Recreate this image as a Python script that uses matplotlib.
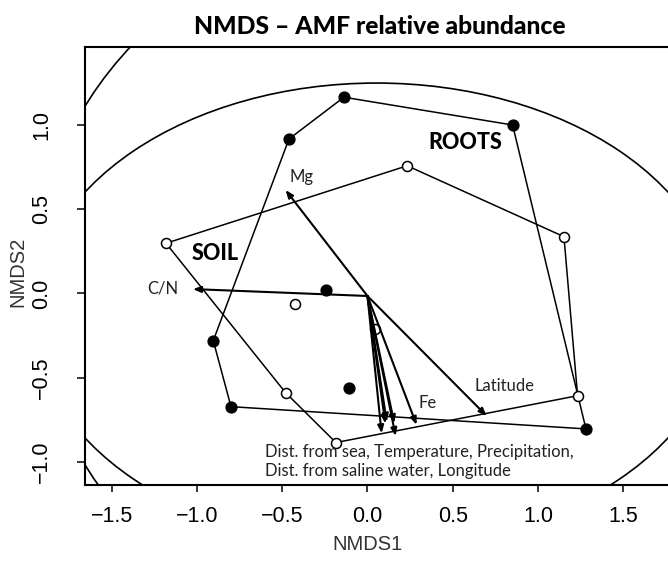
import matplotlib
matplotlib.use("Agg")
import matplotlib.pyplot as plt
from matplotlib.patches import Ellipse
import numpy as np

# ---- data ----
open_x = [-1.181, 0.233, 1.152, 1.232, -0.185, -0.480, -0.425, 0.044]
open_y = [0.298, 0.758, 0.337, -0.607, -0.885, -0.589, -0.064, -0.213]
open_hull = [0, 1, 2, 3, 4, 5]          # indices of hull vertices, in order

filled_x = [-0.138, 0.851, 1.281, -0.800, -0.904, -0.460, -0.245, -0.107]
filled_y = [1.165, 1.000, -0.804, -0.672, -0.280, 0.917, 0.021, -0.563]
filled_hull = [0, 1, 2, 3, 4, 5]

arrow_origin = (0.0, -0.015)
arrow_names = ["C/N", "Mg", "Latitude", "Fe", "Dist. from sea", "Temperature",
               "Precipitation", "Dist. from saline water", "Longitude"]
arrow_x = [-1.023, -0.480, 0.699, 0.288, 0.083, 0.113, 0.157, 0.165, 0.105]
arrow_y = [0.026, 0.614, -0.727, -0.780, -0.830, -0.761, -0.770, -0.846, -0.772]

# labels for the arrows: text, x, y
label_text = ["C/N", "Mg", "Latitude", "Fe",
              "Dist. from sea, Temperature, Precipitation,\nDist. from saline water, Longitude"]
label_x = [-1.197, -0.387, 0.806, 0.351, -0.601]
label_y = [0.031, 0.693, -0.549, -0.652, -0.9985]
label_ha = ["center", "center", "center", "center", "left"]

group_names = ["SOIL", "ROOTS"]
group_x = [-0.894, 0.576]
group_y = [0.239, 0.895]

# ellipses: centre x, centre y, full width, full height
ell_cx = [0.053, 0.308]
ell_cy = [-0.128, 0.047]
ell_w = [4.03, 4.526]
ell_h = [2.754, 4.286]

xticks = [-1.5, -1.0, -0.5, 0.0, 0.5, 1.0, 1.5]
yticks = [-1.0, -0.5, 0.0, 0.5, 1.0]

# ---- figure ----
W, H = 668, 569
fig = plt.figure(figsize=(W / 100, H / 100), dpi=100)
L, R, T, B = 85, 683, 47, 485
ax = fig.add_axes([L / W, 1 - B / H, (R - L) / W, (B - T) / H])
ax.set_xlim(-1.656, 1.85)
ax.set_ylim(-1.137, 1.463)

for s in ax.spines.values():
    s.set_linewidth(1.5)

for cx, cy, w, h in zip(ell_cx, ell_cy, ell_w, ell_h):
    ax.add_patch(Ellipse((cx, cy), w, h, fill=False, edgecolor="black", lw=1.2))

def hull(xs, ys, idx):
    px = [xs[i] for i in idx] + [xs[idx[0]]]
    py = [ys[i] for i in idx] + [ys[idx[0]]]
    ax.plot(px, py, color="black", lw=1.1, zorder=3)

hull(open_x, open_y, open_hull)
hull(filled_x, filled_y, filled_hull)

ax.plot(open_x, open_y, "o", mfc="white", mec="black", mew=1.1, ms=7.2, zorder=5)
ax.plot(filled_x, filled_y, "o", mfc="black", mec="black", ms=7.8, zorder=5)

ox, oy = arrow_origin
for ex, ey in zip(arrow_x, arrow_y):
    ax.annotate("", xy=(ex, ey), xytext=(ox, oy),
                arrowprops=dict(arrowstyle="-|>,head_length=0.45,head_width=0.18",
                                color="black", lw=1.5, shrinkA=0, shrinkB=0),
                zorder=6)

for t, x, y, ha in zip(label_text, label_x, label_y, label_ha):
    ax.text(x, y, t, ha=ha, va="center", fontsize=12, family="Lato",
            color="#222222", linespacing=1.25, zorder=7)

for t, x, y in zip(group_names, group_x, group_y):
    ax.text(x, y, t, ha="center", va="center", fontsize=15.5, family="Lato",
            weight="black", zorder=7)

ax.set_xticks(xticks)
ax.set_xticklabels(["\u22121.5", "\u22121.0", "\u22120.5", "0.0", "0.5", "1.0", "1.5"],
                   family="Liberation Sans", fontsize=15.5)
ax.set_yticks(yticks)
ax.set_yticklabels(["\u22121.0", "\u22120.5", "0.0", "0.5", "1.0"],
                   family="Liberation Sans", fontsize=15.5, rotation=90, va="center")
ax.tick_params(axis="x", length=5, width=1.1, pad=10)
ax.tick_params(axis="y", length=5.5, width=1.1, pad=18)

ax.set_xlabel("NMDS1", family="Liberation Sans", fontsize=14.5, color="#333333")
ax.xaxis.set_label_coords((368 - L) / (R - L), -(545 - B) / (B - T), transform=ax.transAxes)
ax.set_ylabel("NMDS2", family="Liberation Sans", fontsize=14.5, color="#333333")
ax.yaxis.set_label_coords(-(L - 18) / (R - L), (B - 272) / (B - T), transform=ax.transAxes)
ax.xaxis.label.set_va("center")
ax.yaxis.label.set_va("center")

fig.text(380 / W, 1 - 26 / H, "NMDS \u2013 AMF relative abundance", ha="center", va="center",
         fontsize=17.8, family="Lato", weight="black")

fig.savefig("out.png", dpi=100)
